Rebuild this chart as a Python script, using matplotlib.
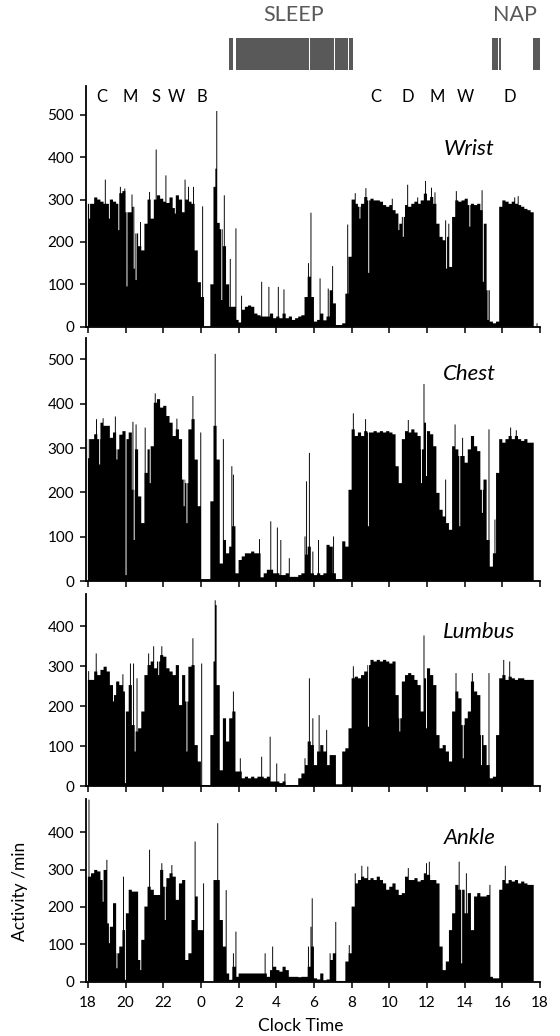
import numpy as np
import matplotlib.pyplot as plt
from matplotlib.transforms import blended_transform_factory

plt.rcParams['font.family'] = ['Lato', 'DejaVu Sans']

# activity per minute, one value per 10 minutes, hours after 18:00 (144 blocks)
wrist = [290, 290, 305, 300, 295, 290, 290, 300, 295, 290, 315, 320,
         270, 270, 283, 220, 190, 180, 243, 300, 255, 300, 310, 302,
         295, 292, 305, 280, 310, 300, 270, 300, 295, 290, 180, 105,
         70, 0, 0, 100, 330, 245, 230, 190, 100, 47, 47, 16,
         10, 40, 47, 50, 47, 31, 27, 24, 24, 24, 31, 20,
         24, 20, 31, 20, 24, 16, 20, 24, 27, 70, 118, 70,
         12, 16, 31, 15, 24, 86, 55, 4, 4, 8, 78, 165,
         300, 290, 283, 290, 306, 298, 302, 298, 298, 295, 287, 283,
         287, 275, 267, 243, 259, 287, 283, 290, 295, 290, 298, 314,
         298, 306, 290, 243, 212, 204, 212, 141, 259, 298, 295, 298,
         302, 287, 290, 287, 290, 275, 243, 86, 12, 8, 12, 283,
         298, 295, 290, 295, 290, 287, 283, 278, 275, 270, 0, 0]

chest = [320, 320, 331, 320, 357, 350, 350, 323, 335, 297, 330, 338,
         320, 335, 206, 297, 191, 131, 244, 297, 304, 402, 410, 391,
         395, 372, 357, 327, 342, 320, 229, 221, 342, 365, 274, 169,
         5, 5, 5, 180, 350, 274, 40, 93, 63, 78, 124, 18,
         48, 56, 63, 63, 67, 63, 63, 9, 18, 26, 26, 18,
         18, 14, 14, 18, 10, 10, 10, 14, 18, 60, 78, 18,
         14, 18, 14, 18, 82, 78, 18, 5, 5, 90, 78, 206,
         342, 327, 335, 327, 338, 335, 335, 338, 335, 338, 335, 338,
         335, 331, 259, 221, 320, 338, 335, 342, 335, 327, 297, 357,
         338, 331, 304, 199, 161, 146, 131, 116, 304, 297, 282, 282,
         267, 297, 327, 304, 293, 206, 229, 93, 33, 63, 244, 320,
         312, 320, 327, 320, 327, 320, 316, 320, 312, 312, 0, 0]

lumbus = [266, 266, 287, 278, 291, 299, 287, 253, 228, 262, 253, 237,
          187, 253, 153, 137, 145, 187, 278, 303, 312, 295, 312, 328,
          324, 295, 287, 278, 303, 203, 278, 212, 299, 303, 103, 62,
          3, 3, 3, 128, 312, 253, 40, 170, 112, 170, 187, 37,
          37, 20, 24, 20, 24, 20, 24, 24, 20, 24, 12, 12,
          12, 8, 12, 3, 3, 3, 3, 20, 32, 53, 112, 103,
          53, 87, 103, 87, 53, 78, 78, 5, 5, 87, 95, 145,
          270, 274, 270, 278, 287, 303, 316, 312, 316, 312, 316, 312,
          307, 312, 228, 170, 262, 278, 283, 278, 266, 253, 187, 270,
          295, 278, 253, 128, 95, 103, 87, 62, 187, 237, 220, 153,
          170, 187, 262, 237, 228, 128, 103, 53, 20, 24, 128, 270,
          278, 266, 274, 270, 266, 270, 270, 266, 266, 266, 0, 0]

ankle = [281, 290, 299, 295, 272, 299, 156, 147, 210, 76, 94, 138,
         183, 246, 241, 241, 58, 112, 201, 254, 246, 232, 232, 299,
         254, 277, 290, 281, 219, 263, 272, 58, 76, 165, 228, 138,
         138, 0, 0, 0, 272, 272, 165, 94, 22, 5, 40, 13,
         22, 22, 22, 22, 22, 22, 22, 22, 22, 13, 31, 40,
         31, 27, 40, 31, 13, 13, 13, 12, 13, 13, 40, 94,
         9, 6, 22, 4, 6, 58, 76, 2, 2, 2, 54, 76,
         201, 263, 272, 281, 277, 272, 277, 272, 281, 272, 263, 246,
         254, 263, 246, 232, 237, 281, 272, 272, 277, 268, 272, 290,
         286, 272, 272, 263, 94, 31, 54, 138, 183, 259, 246, 246,
         183, 237, 138, 228, 237, 228, 228, 232, 13, 9, 9, 246,
         272, 263, 272, 268, 272, 263, 268, 263, 259, 259, 0, 0]

# single-minute peaks and drops (hours after 18:00, activity)
wrist_spikes = [(0.07, 255), (0.90, 347), (1.11, 255), (1.61, 228), (1.70, 330),
                (1.93, 326), (2.05, 95), (2.31, 312), (2.44, 137), (2.54, 110),
                (2.76, 247), (3.25, 318), (3.60, 418), (4.12, 357), (4.61, 267),
                (5.14, 347), (5.32, 330), (5.58, 330), (6.06, 284), (6.77, 373),
                (6.82, 509), (7.08, 63), (7.21, 310), (7.53, 160), (7.84, 232),
                (8.14, 73), (9.20, 106), (9.59, 94), (10.09, 94), (10.39, 88),
                (11.68, 150), (11.81, 269), (12.30, 114), (12.74, 90), (12.97, 143),
                (13.77, 241), (14.16, 315), (14.42, 255), (14.74, 327), (14.88, 127),
                (16.13, 302), (16.49, 228), (16.72, 212), (16.95, 335), (17.48, 305),
                (17.90, 344), (18.22, 328), (18.40, 317), (18.96, 251), (19.01, 137),
                (19.14, 243), (19.54, 320), (20.25, 236), (20.90, 322), (20.96, 106),
                (21.22, 16), (22.64, 305), (22.81, 308), (23.82, 8)]

chest_spikes = [(0.02, 277), (0.44, 365), (0.60, 263), (0.78, 367), (1.43, 371),
                (1.52, 274), (2.00, 14), (2.37, 359), (2.44, 93), (2.54, 353),
                (3.02, 346), (3.29, 221), (3.55, 423), (4.70, 366), (5.09, 169),
                (5.23, 131), (5.55, 417), (5.97, 335), (6.73, 512), (7.17, 320),
                (7.61, 259), (7.70, 240), (9.08, 95), (9.68, 135), (10.04, 121),
                (10.21, 93), (10.67, 52), (11.50, 101), (11.59, 225), (11.73, 289),
                (11.91, 67), (12.21, 93), (13.01, 101), (14.07, 378), (14.72, 365),
                (14.86, 124), (16.98, 363), (17.69, 221), (17.81, 444), (17.95, 237),
                (18.96, 229), (19.47, 353), (19.72, 124), (19.86, 323), (20.92, 154),
                (21.26, 342), (21.58, 139), (22.42, 346), (22.72, 340)]

lumbus_spikes = [(0.02, 288), (0.42, 332), (1.34, 212), (1.84, 280), (1.96, 8),
                 (2.23, 307), (2.40, 307), (2.49, 87), (2.58, 270), (3.20, 332),
                 (3.46, 350), (3.73, 278), (3.90, 350), (5.23, 87), (5.55, 370),
                 (6.02, 307), (6.73, 465), (6.78, 453), (7.70, 237), (8.06, 70),
                 (9.20, 74), (9.65, 124), (10.00, 57), (10.44, 32), (11.50, 70),
                 (11.73, 270), (11.91, 170), (12.25, 178), (12.65, 141), (14.07, 300),
                 (14.86, 149), (16.54, 137), (17.81, 377), (17.95, 145), (19.51, 283),
                 (19.90, 70), (20.39, 283), (20.87, 53), (21.26, 283), (22.05, 316),
                 (22.37, 312)]

ankle_spikes = [(0.04, 487), (0.78, 214), (0.99, 326), (1.11, 103), (1.52, 36),
                (1.87, 281), (1.96, 5), (2.79, 31), (3.25, 353), (3.90, 317),
                (4.08, 165), (4.43, 312), (5.67, 375), (6.11, 263), (6.86, 424),
                (7.31, 245), (7.70, 76), (7.84, 134), (9.38, 76), (9.79, 94),
                (11.68, 94), (11.81, 147), (11.88, 223), (12.83, 76), (13.13, 160),
                (13.85, 98), (14.16, 290), (14.51, 310), (14.83, 308), (16.98, 304),
                (17.95, 317), (18.10, 321), (19.69, 321), (19.81, 49), (20.07, 290),
                (21.31, 259), (22.14, 310)]

panel_names = ['Wrist', 'Chest', 'Lumbus', 'Ankle']
panel_data = [wrist, chest, lumbus, ankle]
panel_spikes = [wrist_spikes, chest_spikes, lumbus_spikes, ankle_spikes]
panel_ymax = [568, 547, 480, 488]
panel_yticks = [range(0, 501, 100), range(0, 501, 100), range(0, 401, 100), range(0, 401, 100)]

# sleep log (hours after 18:00)
sleep_periods = [(7.49, 7.70), (7.85, 11.75), (11.80, 13.07), (13.12, 13.83), (13.88, 14.07)]
nap_periods = [(21.44, 21.78), (21.83, 21.93), (23.65, 24.0)]

activity_codes = ['C', 'M', 'S', 'W', 'B', 'C', 'D', 'M', 'W', 'D']
code_times = [0.72, 2.26, 3.64, 4.70, 6.03, 15.27, 16.98, 18.52, 20.03, 22.41]

hour_ticks = list(range(0, 25, 2))
hour_labels = ['18', '20', '22', '0', '2', '4', '6', '8', '10', '12', '14', '16', '18']


def minute_values(base, spikes):
    vals = np.repeat(np.array(base, dtype=float), 10)
    for t, v in spikes:
        i = int(round(t * 60))
        vals[i:i + 3] = v
    return vals


W, H = 560, 1036
fig = plt.figure(figsize=(W / 100, H / 100), dpi=100)

# panel boxes in pixels: top, bottom
boxes = [(86, 326.7), (338.3, 581.3), (594.3, 786.3), (799.3, 981.7)]
label_y = [0.74, 0.855, 0.805, 0.79]
left, right = 86, 540
xlim = (-0.1, 24.0)

edges = np.arange(1441) / 60
axes = []
for i, (top, bot) in enumerate(boxes):
    ax = fig.add_axes([left / W, 1 - bot / H, (right - left) / W, (bot - top) / H])
    vals = minute_values(panel_data[i], panel_spikes[i])
    ax.stairs(vals, edges, fill=True, color='black', linewidth=0)
    ax.set_xlim(*xlim)
    ax.set_ylim(0, panel_ymax[i])
    ax.set_yticks(list(panel_yticks[i]))
    ax.set_xticks(hour_ticks)
    if i == 3:
        ax.set_xticklabels(hour_labels)
    else:
        ax.set_xticklabels([])
    for s in ['top', 'right']:
        ax.spines[s].set_visible(False)
    for s in ['left', 'bottom']:
        ax.spines[s].set_linewidth(1.3)
    ax.tick_params(direction='out', length=4.5, width=1.1, labelsize=11, pad=4)
    ax.tick_params(axis='x', pad=6)
    tr = blended_transform_factory(ax.transData, ax.transAxes)
    ax.text(18.87, label_y[i], panel_names[i], transform=tr, fontsize=16,
            style='italic', ha='left', va='center')
    axes.append(ax)

# activity code letters above the wrist trace
for t, c in zip(code_times, activity_codes):
    axes[0].text(t, 542, c, fontsize=12, ha='center', va='center')

# sleep / nap bars
axs = fig.add_axes([left / W, 1 - 80 / H, (right - left) / W, 80 / H])
axs.set_xlim(*xlim)
axs.set_ylim(80, 0)
axs.axis('off')
grey = '#595959'
axs.broken_barh([(a, b - a) for a, b in sleep_periods], (37.7, 32.3), facecolors=grey)
axs.broken_barh([(a, b - a) for a, b in nap_periods], (37.7, 32.3), facecolors=grey)
axs.text(np.mean([sleep_periods[1][0], sleep_periods[-1][1]]) - 0.05, 15, 'SLEEP',
         color=grey, fontsize=15.5, ha='center', va='center')
axs.text(22.68, 15, 'NAP', color=grey, fontsize=15.5, ha='center', va='center')

fig.text(20 / W, 1 - 891 / H, 'Activity /min', rotation=90, fontsize=12.5,
         ha='center', va='center')
fig.text(301 / W, 1 - 1026 / H, 'Clock Time', fontsize=12.5, ha='center', va='center')

fig.savefig('out.png', dpi=100)
